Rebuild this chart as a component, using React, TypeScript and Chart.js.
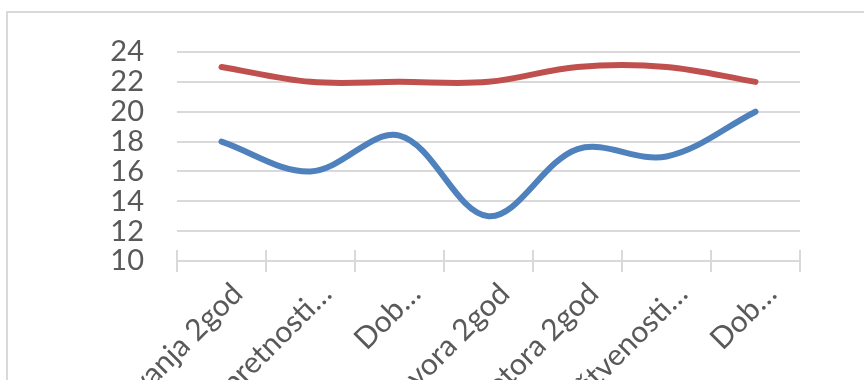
import React, { useEffect, useRef } from "react";
import { Chart, registerables } from "chart.js";

Chart.register(...registerables);

const categories = [
  "Razumijevanja 2god",
  "Spretnosti…",
  "Dob…",
  "Govora 2god",
  "Motora 2god",
  "Društvenosti…",
  "Dob…",
];
const series1 = [18, 16, 18.4, 13, 17.5, 17, 20];
const series2 = [23, 22, 22, 22, 23, 23, 22];
const yMin = 10;
const yMax = 24;
const yStep = 2;

const GRID = "#d9d9d9";
const TEXT = "#595959";

const crossTicks = {
  id: "crossTicks",
  beforeDatasetsDraw(chart: any) {
    const xs = chart.scales.x;
    const ys = chart.scales.y;
    const base = ys.getPixelForValue(yMin);
    const ctx = chart.ctx;
    ctx.save();
    ctx.strokeStyle = GRID;
    ctx.lineWidth = 2;
    for (let i = 0; i <= categories.length; i++) {
      const px = Math.round(xs.getPixelForValue(i - 0.5));
      ctx.beginPath();
      ctx.moveTo(px, base - 11);
      ctx.lineTo(px, base + 11);
      ctx.stroke();
    }
    ctx.restore();
  },
};

export default function App() {
  const ref = useRef<HTMLCanvasElement | null>(null);

  useEffect(() => {
    if (!ref.current) return;
    const chart = new Chart(ref.current, {
      type: "line",
      data: {
        labels: categories,
        datasets: [
          {
            label: "Series1",
            data: series1,
            borderColor: "#4f81bd",
            backgroundColor: "#4f81bd",
            borderWidth: 6,
            pointRadius: 0,
            tension: 0.35,
            borderCapStyle: "round",
            borderJoinStyle: "round",
          },
          {
            label: "Series2",
            data: series2,
            borderColor: "#c0504d",
            backgroundColor: "#c0504d",
            borderWidth: 6,
            pointRadius: 0,
            tension: 0.35,
            borderCapStyle: "round",
            borderJoinStyle: "round",
          },
        ],
      },
      options: {
        animation: false,
        responsive: false,
        devicePixelRatio: 1,
        layout: { padding: { top: 52, right: 64, left: 0, bottom: 0 } },
        plugins: { legend: { display: false }, tooltip: { enabled: false } },
        scales: {
          x: {
            type: "category",
            offset: true,
            grid: { display: false },
            border: { display: false },
            ticks: {
              autoSkip: false,
              maxRotation: 45,
              minRotation: 45,
              color: TEXT,
              font: { family: "Lato", size: 30 },
              padding: 7,
              labelOffset: 16,
            },
            afterFit: (s: any) => {
              s.height = 119;
            },
          },
          y: {
            min: yMin,
            max: yMax,
            ticks: {
              stepSize: yStep,
              autoSkip: false,
              color: TEXT,
              font: { family: "Lato", size: 29, lineHeight: 0.9 },
              padding: 33,
            },
            grid: { color: GRID, lineWidth: 2, drawTicks: false },
            border: { display: false },
            afterFit: (s: any) => {
              s.width = 177;
            },
          },
        },
      },
      plugins: [crossTicks],
    });
    return () => chart.destroy();
  }, []);

  return (
    <div
      style={{
        position: "fixed",
        left: 0,
        top: 0,
        width: 864,
        height: 380,
        overflow: "hidden",
        background: "#ffffff",
      }}
    >
      <div
        style={{
          position: "absolute",
          left: 6,
          top: 11,
          width: 1000,
          height: 1000,
          border: "2.5px solid " + GRID,
          boxSizing: "border-box",
        }}
      />
      <canvas
        ref={ref}
        width={864}
        height={380}
        style={{ position: "absolute", left: 0, top: 0, width: 864, height: 380 }}
      />
    </div>
  );
}
